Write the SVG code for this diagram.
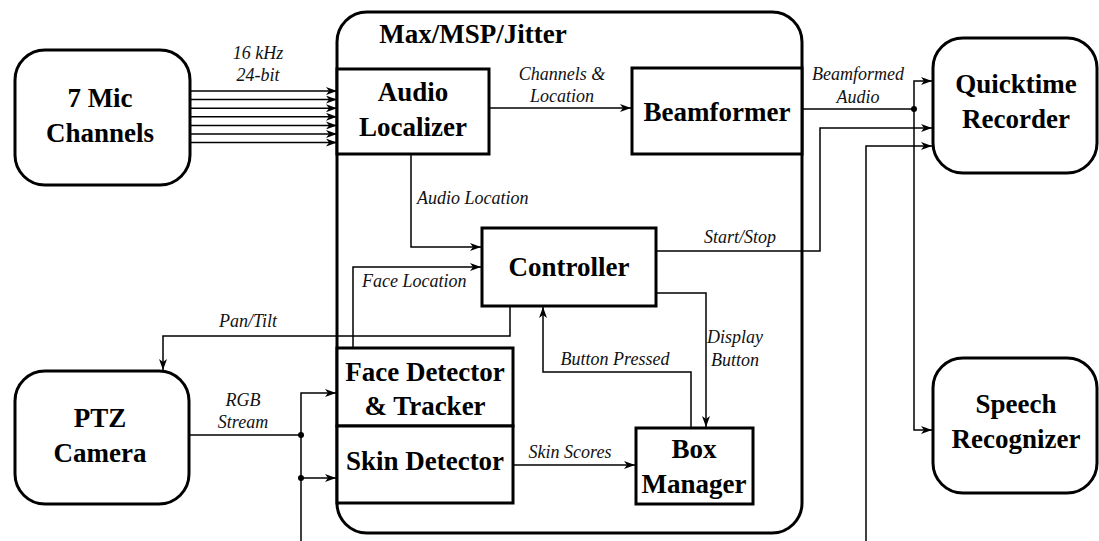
<svg xmlns="http://www.w3.org/2000/svg" width="1099" height="541" viewBox="0 0 1099 541">
<style>
.box{fill:#fff;stroke:#000;stroke-width:3}
.n{font-family:"Liberation Serif","Times New Roman",serif;font-weight:bold;font-size:27px;text-anchor:middle;fill:#000}
.l{font-family:"Liberation Serif","Times New Roman",serif;font-style:italic;font-size:18px;fill:#111}
.c{fill:none;stroke:#000;stroke-width:1.5}
.a{marker-end:url(#ah)}
</style>
<defs>
<marker id="ah" markerUnits="userSpaceOnUse" markerWidth="12" markerHeight="8" refX="11" refY="4" orient="auto">
<path d="M0,0 L11,4 L0,8 L3,4 z" fill="#000"/>
</marker>
</defs>
<rect width="1099" height="541" fill="#fff"/>
<g id="max">
<rect class="box" x="337" y="12" width="465" height="521" rx="30"/>
<text class="n" x="473" y="43" font-size="26">Max/MSP/Jitter</text>
</g>
<g id="connectors">
<path class="c a" d="M190,91 H337"/>
<path class="c a" d="M190,99.6 H337"/>
<path class="c a" d="M190,108.2 H337"/>
<path class="c a" d="M190,116.8 H337"/>
<path class="c a" d="M190,125.4 H337"/>
<path class="c a" d="M190,134 H337"/>
<path class="c a" d="M190,142.6 H337"/>
<path class="c a" d="M489,108 H631"/>
<path class="c a" d="M411,154 V247 H481"/>
<path class="c a" d="M353,348 V267 H481"/>
<path class="c a" d="M510,306 V336 H163 V370"/>
<path class="c a" d="M691,428 V372 H543 V307"/>
<path class="c a" d="M656,293 H706 V427"/>
<path class="c a" d="M656,251 H820 V128 H932"/>
<path class="c" d="M802,109 H914"/>
<path class="c a" d="M914,109 V81 H932"/>
<path class="c a" d="M914,109 V430 H932"/>
<path class="c a" d="M866,541 V146 H932"/>
<path class="c" d="M189,435 H301"/>
<path class="c a" d="M301,541 V393 H336"/>
<path class="c a" d="M301,478 H336"/>
<path class="c a" d="M513,465 H635"/>
<circle cx="914" cy="109" r="3" fill="#000"/>
<circle cx="301" cy="435" r="3" fill="#000"/>
<circle cx="301" cy="478" r="3" fill="#000"/>
<text class="l" x="258" y="59" text-anchor="middle">16 kHz</text>
<text class="l" x="258" y="81" text-anchor="middle">24-bit</text>
<text class="l" x="562" y="80" text-anchor="middle">Channels &amp;</text>
<text class="l" x="562" y="102" text-anchor="middle">Location</text>
<text class="l" x="858" y="80" text-anchor="middle">Beamformed</text>
<text class="l" x="858" y="103" text-anchor="middle">Audio</text>
<text class="l" x="417" y="204">Audio Location</text>
<text class="l" x="362" y="287">Face Location</text>
<text class="l" x="740" y="243" text-anchor="middle">Start/Stop</text>
<text class="l" x="248" y="327" text-anchor="middle">Pan/Tilt</text>
<text class="l" x="615" y="365" text-anchor="middle">Button Pressed</text>
<text class="l" x="735" y="343" text-anchor="middle">Display</text>
<text class="l" x="735" y="366" text-anchor="middle">Button</text>
<text class="l" x="243" y="406" text-anchor="middle">RGB</text>
<text class="l" x="243" y="428" text-anchor="middle">Stream</text>
<text class="l" x="570" y="458" text-anchor="middle">Skin Scores</text>
</g>
<g id="mic">
<rect class="box" x="15" y="50" width="175" height="135" rx="30"/>
<text class="n" x="100" y="107">7 Mic</text>
<text class="n" x="100" y="142">Channels</text>
</g>
<g id="localizer">
<rect class="box" x="337" y="69" width="152" height="85"/>
<text class="n" x="413" y="101">Audio</text>
<text class="n" x="413" y="136">Localizer</text>
</g>
<g id="beamformer">
<rect class="box" x="632" y="68" width="170" height="86"/>
<text class="n" x="717" y="121">Beamformer</text>
</g>
<g id="controller">
<rect class="box" x="482" y="228" width="174" height="78"/>
<text class="n" x="569" y="276">Controller</text>
</g>
<g id="face">
<rect class="box" x="337" y="348" width="176" height="78"/>
<text class="n" x="425" y="381">Face Detector</text>
<text class="n" x="425" y="415">&amp; Tracker</text>
</g>
<g id="skin">
<rect class="box" x="337" y="426" width="176" height="77"/>
<text class="n" x="425" y="470">Skin Detector</text>
</g>
<g id="boxmgr">
<rect class="box" x="636" y="428" width="117" height="76"/>
<text class="n" x="694" y="458">Box</text>
<text class="n" x="694" y="493">Manager</text>
</g>
<g id="quicktime">
<rect class="box" x="933" y="38" width="164" height="135" rx="30"/>
<text class="n" x="1016" y="93">Quicktime</text>
<text class="n" x="1016" y="128">Recorder</text>
</g>
<g id="speech">
<rect class="box" x="933" y="358" width="164" height="135" rx="30"/>
<text class="n" x="1016" y="413">Speech</text>
<text class="n" x="1016" y="448">Recognizer</text>
</g>
<g id="ptz">
<rect class="box" x="15" y="371" width="174" height="133" rx="30"/>
<text class="n" x="100" y="427">PTZ</text>
<text class="n" x="100" y="462">Camera</text>
</g>
</svg>
